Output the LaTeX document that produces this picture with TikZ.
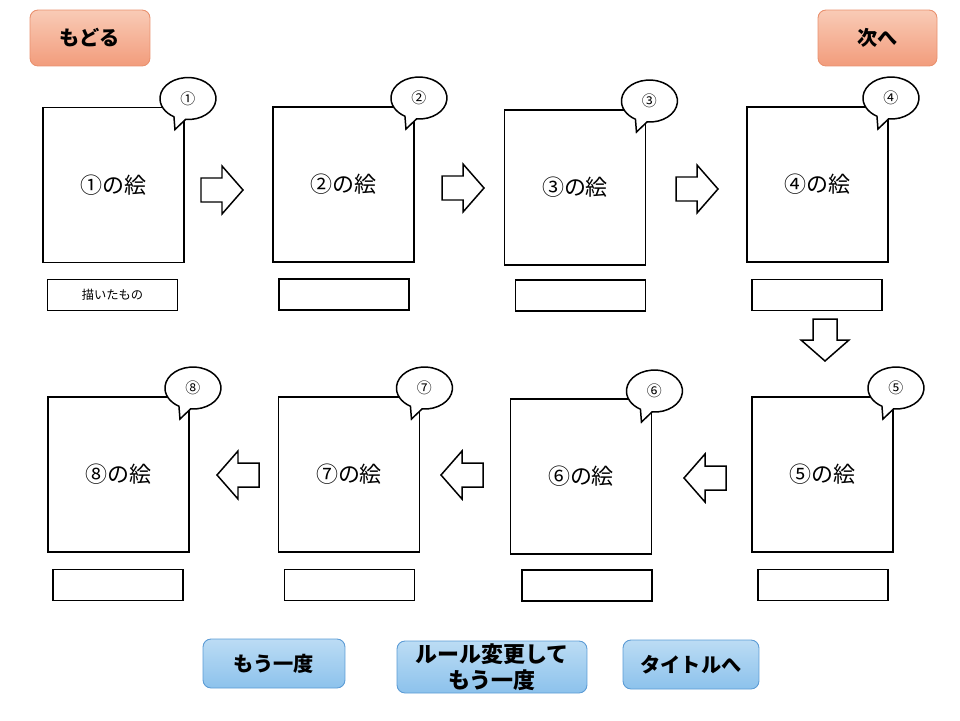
\documentclass[tikz,border=0pt]{standalone}
\usepackage{fontspec}
\setmainfont{Noto Sans CJK JP}
\usetikzlibrary{calc}

\definecolor{salmontop}{HTML}{F9CBB6}
\definecolor{salmonbot}{HTML}{F29C7C}
\definecolor{salmonline}{HTML}{E9916F}
\definecolor{skytop}{HTML}{BCDCF4}
\definecolor{skybot}{HTML}{8CC2EC}
\definecolor{skyline}{HTML}{5B9BD5}

\tikzset{
  picbox/.style={draw, line width=1.1pt, minimum width=2.82cm, minimum height=3.1cm,
    font=\fontsize{12.5}{15}\selectfont},
  namebox/.style={draw, line width=0.85pt, minimum width=2.6cm, minimum height=0.62cm,
    font=\fontsize{7}{8}\selectfont},
  bubble/.style={draw, fill=white, line width=0.85pt},
  num/.style={font=\fontsize{8.5}{10}\selectfont},
  blockarrow/.style={draw, fill=white, line width=0.85pt},
  redbtn/.style={draw=salmonline, line width=0.5pt, rounded corners=0.16cm,
    top color=salmontop, bottom color=salmonbot, minimum height=1.12cm,
    font=\bfseries\fontsize{11.5}{14}\selectfont},
  bluebtn/.style={draw=skyline, line width=0.5pt, rounded corners=0.16cm,
    top color=skytop, bottom color=skybot, align=center,
    font=\bfseries\fontsize{11.5}{15}\selectfont}
}

% speech bubble: name, centre, text
\newcommand{\callout}[3]{%
  \draw[bubble] ($(#2)+(-13,31)$) -- ($(#2)+(95:28 and 21)$)
    arc[start angle=95, end angle=-240, x radius=28, y radius=21] -- cycle;
  \node[num] (#1) at (#2) {#3};}

% white block arrow: centre, direction
\newcommand{\blockarrow}[2]{%
  \draw[blockarrow, shift={(#1)}, rotate=#2]
    (-21,-12) -- (0,-12) -- (0,-24) -- (21,0) -- (0,24) -- (0,12) -- (-21,12) -- cycle;}

\begin{document}
\begin{tikzpicture}[x=0.02cm, y=-0.02cm]
  \useasboundingbox (0,0) rectangle (960,720);

  % buttons on top
  \node[redbtn, minimum width=2.4cm] (back) at (90,38) {もどる};
  \node[redbtn, minimum width=2.38cm] (next) at (877.5,38) {次へ};

  % pictures, upper row
  \node[picbox] (p1) at (113.5,185) {①の絵};
  \node[picbox] (p2) at (343.5,184.5) {②の絵};
  \node[picbox] (p3) at (575,187.5) {③の絵};
  \node[picbox] (p4) at (817.5,184.5) {④の絵};
  \node[namebox] (n1) at (112.5,295) {描いたもの};
  \node[namebox] (n2) at (344,294.5) {};
  \node[namebox] (n3) at (580.5,295.5) {};
  \node[namebox] (n4) at (817,295) {};

  % pictures, lower row
  \node[picbox] (p8) at (118.5,474.5) {⑧の絵};
  \node[picbox] (p7) at (349,474.5) {⑦の絵};
  \node[picbox] (p6) at (581,476.5) {⑥の絵};
  \node[picbox] (p5) at (822.5,474.5) {⑤の絵};
  \node[namebox] (n8) at (118,585) {};
  \node[namebox] (n7) at (349.5,585) {};
  \node[namebox] (n6) at (587,585.5) {};
  \node[namebox] (n5) at (823,585) {};

  % numbers
  \callout{b1}{$(p1.north east)+(3,-8)$}{①}
  \callout{b2}{$(p2.north east)+(4,-8)$}{②}
  \callout{b3}{$(p3.north east)+(3,-8)$}{③}
  \callout{b4}{$(p4.north east)+(2,-8)$}{④}
  \callout{b5}{$(p5.north east)+(2,-8)$}{⑤}
  \callout{b6}{$(p6.north east)+(2,-7)$}{⑥}
  \callout{b7}{$(p7.north east)+(4,-8)$}{⑦}
  \callout{b8}{$(p8.north east)+(3,-8)$}{⑧}

  % order
  \blockarrow{222,190}{0}
  \blockarrow{463,188}{0}
  \blockarrow{697,189}{0}
  \blockarrow{825,340}{-90}
  \blockarrow{705,478}{180}
  \blockarrow{462,475}{180}
  \blockarrow{238,475}{180}

  % buttons at the bottom
  \node[bluebtn, minimum width=2.84cm, minimum height=0.98cm] (again) at (274,663.5) {もう一度};
  \node[bluebtn, minimum width=3.8cm, minimum height=1.04cm, inner sep=0pt,
    font=\bfseries\fontsize{12.5}{15}\selectfont] (rule) at (492,667) {ルール変更して\\もう一度};
  \node[bluebtn, minimum width=2.72cm, minimum height=0.98cm] (title) at (691,664.5) {タイトルへ};
\end{tikzpicture}
\end{document}
